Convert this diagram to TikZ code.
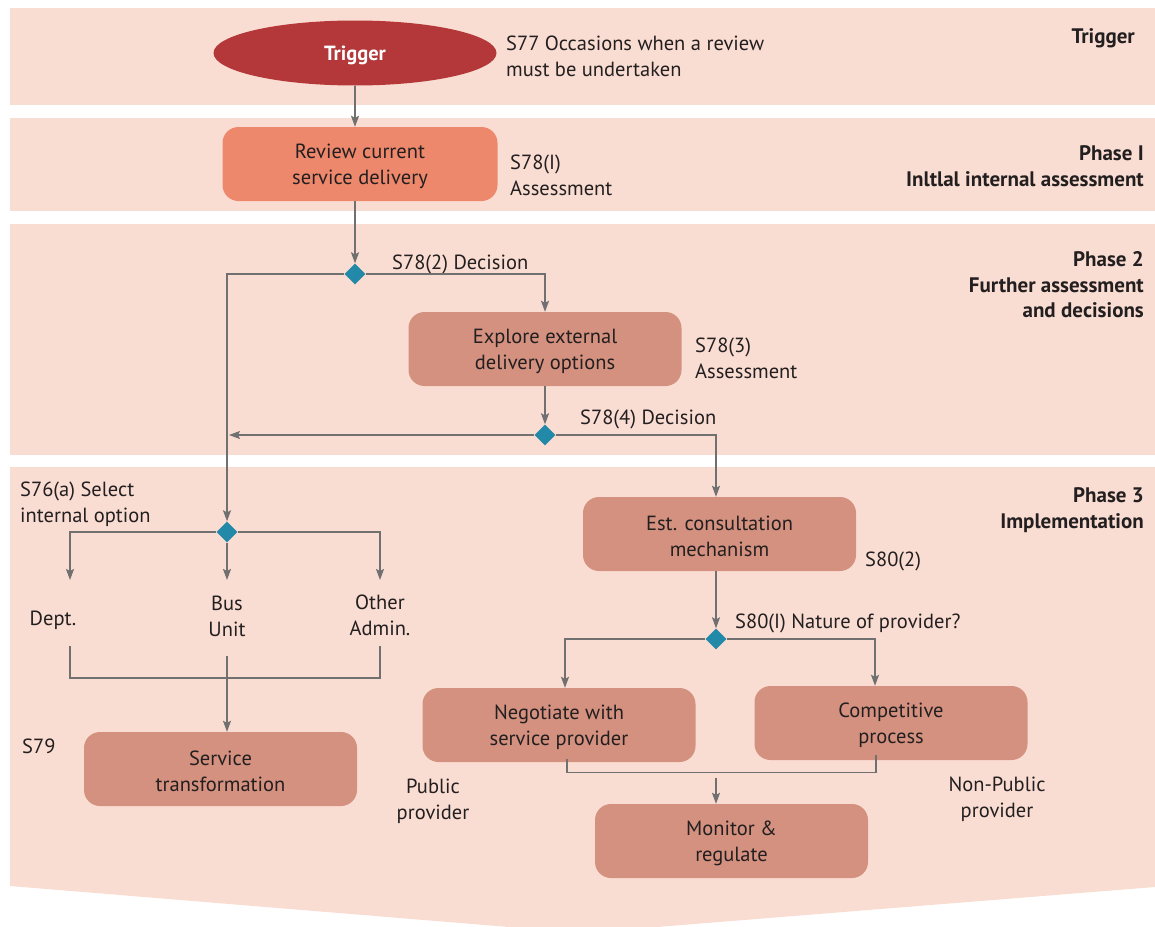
\documentclass[tikz,border=0pt]{standalone}
\usepackage{fontspec}
\setmainfont{PT Sans}
\usetikzlibrary{shapes.geometric,arrows.meta}

\definecolor{bandfill}{HTML}{FADDD2}
\definecolor{trigfill}{HTML}{B4383A}
\definecolor{reviewfill}{HTML}{EE886C}
\definecolor{boxfill}{HTML}{D4917F}
\definecolor{diafill}{HTML}{2389A8}
\definecolor{linegray}{HTML}{707070}
\definecolor{ink}{HTML}{231F20}

\tikzset{
  band/.style={fill=bandfill, draw=none},
  stepbox/.style={rectangle, rounded corners=16pt, fill=boxfill, draw=none,
    minimum width=273pt, minimum height=74pt, align=center, text=ink},
  boxtext/.style={align=center, text=ink, inner sep=0pt, yshift=-2pt},
  decision/.style={diamond, fill=diafill, draw=none, minimum width=21pt,
    minimum height=21pt, inner sep=0pt},
  conn/.style={draw=linegray, line width=1.4pt},
  arr/.style={conn, -{Stealth[length=11pt,width=8pt,inset=2pt]}},
  note/.style={align=left, anchor=west, text=ink, inner sep=0pt},
  lbl/.style={align=center, text=ink, inner sep=0pt},
  phase/.style={align=right, anchor=east, font=\fontsize{21}{25.5}\selectfont\bfseries,
    text=ink, inner sep=0pt}
}

\begin{document}
\begin{tikzpicture}[x=1pt, y=-1pt, font=\fontsize{20.5}{26}\selectfont]
\useasboundingbox (0,0) rectangle (1155,926);
\begin{scope}
\clip (0,0) rectangle (1155,926);
% background bands
\fill[band] (10,8) rectangle (1155,105);
\fill[band] (10,118) rectangle (1155,211);
\fill[band] (10,224) rectangle (1155,455);
\fill[band] (10,467) -- (1155,467) -- (1155,887) -- (582,933) -- (10,886) -- cycle;
\end{scope}

% phase titles
\node[phase] (ph0) at (1135,38) {Trigger};
\node[phase] (ph1) at (1144,166) {Phase I\\Inltlal internal assessment};
\node[phase] (ph2) at (1144,285) {Phase 2\\Further assessment\\and decisions};
\node[phase] (ph3) at (1144,510) {Phase 3\\Implementation};

% trigger and phase I
\node[ellipse, fill=trigfill, minimum width=283pt, minimum height=65pt] (trig) at (355,53) {};
\node[boxtext, text=white, font=\fontsize{20.5}{26}\selectfont\bfseries] (trigt) at (trig.center) {Trigger};
\node[note] (n77) at (506,56) {S77 Occasions when a review\\must be undertaken};

\node[stepbox, fill=reviewfill, minimum width=275pt] (rev) at (360,164) {};
\node[boxtext] (revt) at (rev.center) {Review current\\service delivery};
\node[note] (n78a) at (510,175) {S78(I)\\Assessment};

% phase 2
\node[decision] (d1) at (355,274) {};
\node[lbl, anchor=base west] (n78b) at (392,269) {S78(2) Decision};
\node[stepbox] (exp) at (545,349) {};
\node[boxtext] (expt) at (exp.center) {Explore external\\delivery options};
\node[note] (n78c) at (695,358) {S78(3)\\Assessment};
\node[decision] (d2) at (545,435) {};
\node[lbl, anchor=base west] (n78d) at (580,424) {S78(4) Decision};
\coordinate (jl) at (229,435);

% phase 3, internal branch
\node[note] (n76) at (20,504) {S76(a) Select\\internal option};
\node[decision] (d3) at (227,532) {};
\coordinate (ta) at (70,580);
\coordinate (tb) at (227,580);
\coordinate (tc) at (380,580);
\node[lbl] (dept) at (53,620) {Dept.};
\node[lbl] (bus) at (227,616) {Bus\\Unit};
\node[lbl] (oth) at (380,615) {Other\\Admin.};
\coordinate (ma) at (70,646);
\coordinate (mc) at (380,646);
\coordinate (mb) at (227,656);
\node[note] (n79) at (22,746) {S79};
\node[stepbox] (svc) at (220.5,769) {};
\node[boxtext] (svct) at (svc.center) {Service\\transformation};

% phase 3, external branch
\node[stepbox] (est) at (719.5,534) {};
\node[boxtext] (estt) at (est.center) {Est. consultation\\mechanism};
\node[note] (n80b) at (865,561) {S80(2)};
\node[decision] (d4) at (716,639) {};
\node[lbl, anchor=base west] (n80a) at (735,628) {S80(I) Nature of provider?};
\node[stepbox] (neg) at (559,725) {};
\node[boxtext] (negt) at (neg.center) {Negotiate with\\service provider};
\node[stepbox] (comp) at (891,723) {};
\node[boxtext] (compt) at (comp.center) {Competitive\\process};
\node[lbl] (pub) at (433,801) {Public\\provider};
\node[lbl] (npub) at (997,799) {Non-Public\\provider};
\node[stepbox] (mon) at (731.5,841) {};
\node[boxtext] (mont) at (mon.center) {Monitor \&\\regulate};

% connectors
\draw[arr] (trig) -- (trig.south |- rev.north);
\draw[arr] (rev.south -| d1) -- (d1.north);
\draw[arr] (d1.west) -| (d3.north);
\draw[arr] (d1.east) -| (exp.north);
\draw[arr] (exp.south) -- (d2.north);
\draw[arr] (d2.west) -- (jl);
\draw[arr] (d2.east) -| (est.north -| d4);
\draw[arr] (est.south -| d4) -- (d4.north);

\draw[arr] (d3.west) -| (ta);
\draw[arr] (d3.south) -- (tb);
\draw[arr] (d3.east) -| (tc);
\draw[conn] (ma) -- (ma |- 0,678) -- (mc |- 0,678) -- (mc);
\draw[arr] (mb) -- (svc.north -| mb);

\draw[arr] (d4.west) -| ([xshift=6pt]neg.north);
\draw[arr] (d4.east) -| ([xshift=-16pt]comp.north);
\draw[conn] ([xshift=8pt,yshift=3pt]neg.south) -- ++(0,13) -| ([xshift=-15pt,yshift=5pt]comp.south);
\draw[arr] (d4 |- 0,778) -- (mon.north -| d4);
\end{tikzpicture}
\end{document}
